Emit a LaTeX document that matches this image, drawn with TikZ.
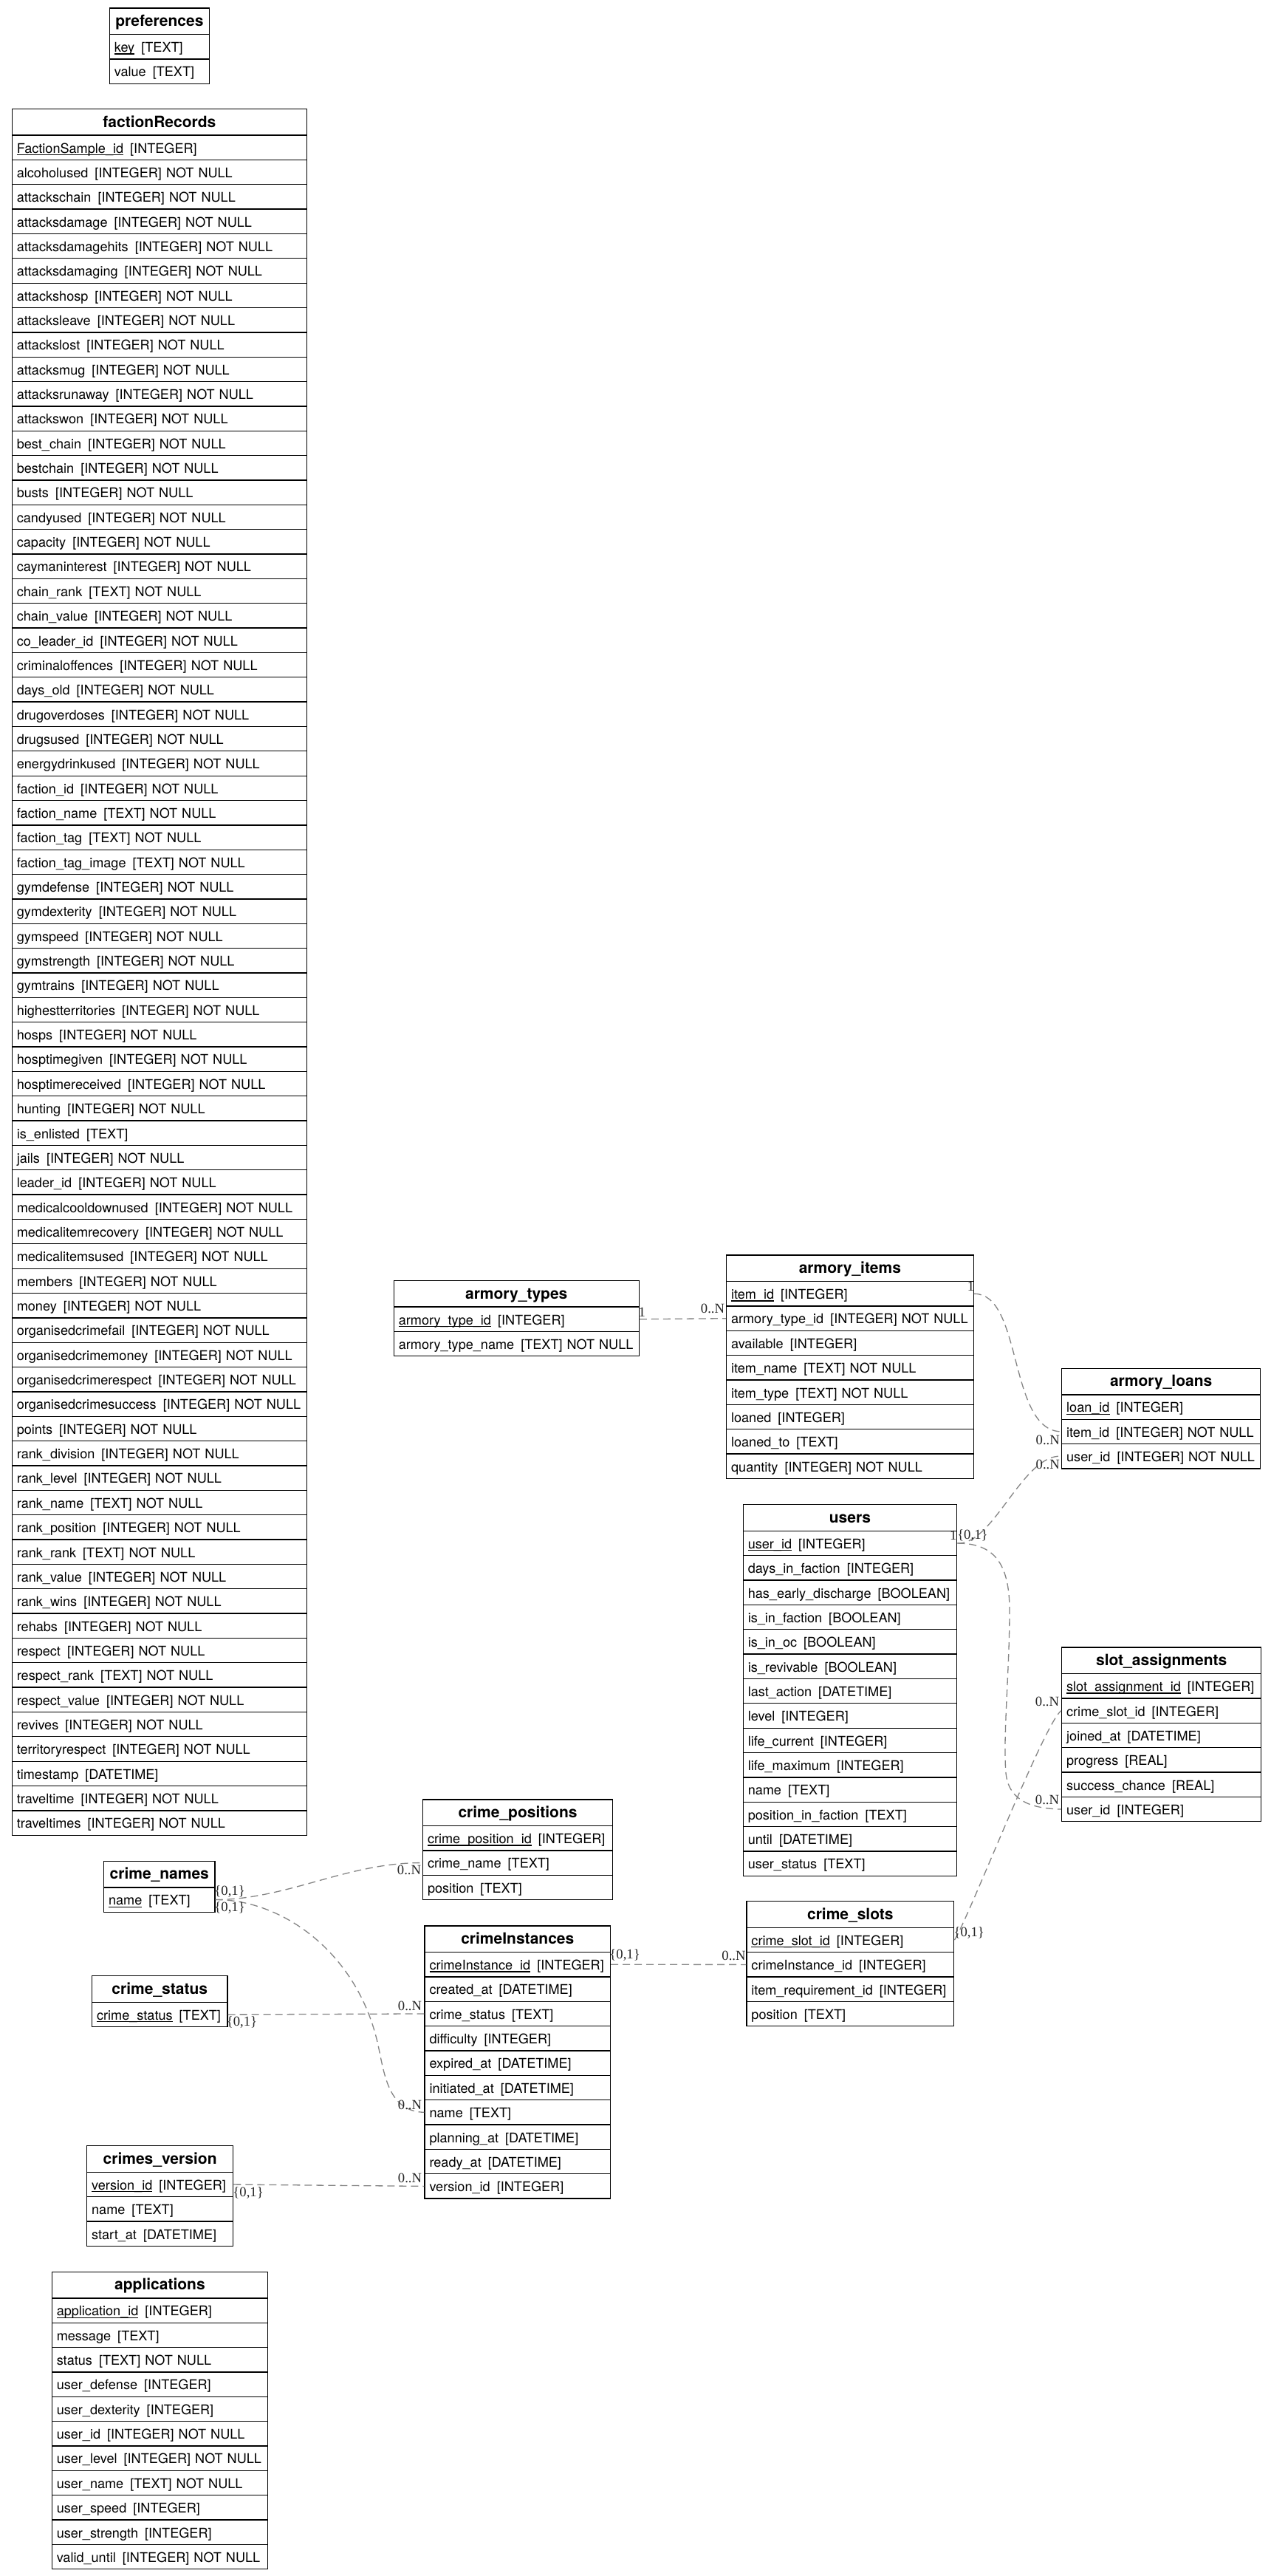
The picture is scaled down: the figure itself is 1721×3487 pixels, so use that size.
\documentclass[tikz,border=0pt]{standalone}
\usepackage{fontspec}
\setmainfont{TeX Gyre Heros}
\newfontfamily\lblfont{Liberation Serif}
\newcommand\tgap{\hspace{0.5em}}
\newcommand\pkey[1]{\setbox0\hbox{#1}\rlap{\rule[-3bp]{\wd0}{1.2bp}}\box0}
\newcommand\tI{[INTEGER]}
\newcommand\tT{[TEXT]}
\newcommand\tD{[DATETIME]}
\newcommand\tB{[BOOLEAN]}
\newcommand\tR{[REAL]}
\newcommand\tINN{[INTEGER] NOT NULL}
\newcommand\tTNN{[TEXT] NOT NULL}
\tikzset{
  hdr/.style={draw=black, line width=1.3bp, fill=white, inner sep=0pt,
    minimum height=35.7bp, font=\fontsize{21bp}{25bp}\selectfont\bfseries,
    text height=17bp, text depth=3.3bp},
  rowc/.style={draw=black, line width=1.3bp, fill=white, inner xsep=6.5bp,
    inner ysep=0pt, minimum height=33.35bp,
    font=\fontsize{18.1bp}{22bp}\selectfont, align=left,
    text height=17bp, text depth=2.4bp},
  rel/.style={draw=black!48, line width=1.3bp, dash pattern=on 10bp off 6bp},
  card/.style={font=\lblfont\fontsize{18.67bp}{22bp}\selectfont, inner sep=0pt, text=black!85}
}
% #1 name, #2 left, #3 width, #4 top, #5 title, #6 rows
\newcommand\mktable[6]{%
  \pgfmathsetmacro\tw{#3-13}%
  \node[hdr, minimum width=#3bp, anchor=north west] (#1) at (#2,#4) {#5};
  \foreach \r [count=\i] in {#6} {
    \pgfmathsetmacro\yy{#4+35.7+(\i-1)*33.35}
    \node[rowc, minimum width=#3bp, text width=\tw bp, anchor=north west] (#1-\i) at (#2,\yy) {\mbox{\r}};
  }
}
\begin{document}
\begin{tikzpicture}[x=1bp,y=-1bp]
\fill[white] (0,0) rectangle (1721,3487);
\useasboundingbox (0,0) rectangle (1721,3487);

\mktable{prefs}{147.7}{135}{10.3}{preferences}{\pkey{key}\tgap\tT, value\tgap\tT}

\mktable{faction}{15.7}{399}{146.7}{factionRecords}{%
\pkey{FactionSample\_id}\tgap\tI,
alcoholused\tgap\tINN,
attackschain\tgap\tINN,
attacksdamage\tgap\tINN,
attacksdamagehits\tgap\tINN,
attacksdamaging\tgap\tINN,
attackshosp\tgap\tINN,
attacksleave\tgap\tINN,
attackslost\tgap\tINN,
attacksmug\tgap\tINN,
attacksrunaway\tgap\tINN,
attackswon\tgap\tINN,
best\_chain\tgap\tINN,
bestchain\tgap\tINN,
busts\tgap\tINN,
candyused\tgap\tINN,
capacity\tgap\tINN,
caymaninterest\tgap\tINN,
chain\_rank\tgap\tTNN,
chain\_value\tgap\tINN,
co\_leader\_id\tgap\tINN,
criminaloffences\tgap\tINN,
days\_old\tgap\tINN,
drugoverdoses\tgap\tINN,
drugsused\tgap\tINN,
energydrinkused\tgap\tINN,
faction\_id\tgap\tINN,
faction\_name\tgap\tTNN,
faction\_tag\tgap\tTNN,
faction\_tag\_image\tgap\tTNN,
gymdefense\tgap\tINN,
gymdexterity\tgap\tINN,
gymspeed\tgap\tINN,
gymstrength\tgap\tINN,
gymtrains\tgap\tINN,
highestterritories\tgap\tINN,
hosps\tgap\tINN,
hosptimegiven\tgap\tINN,
hosptimereceived\tgap\tINN,
hunting\tgap\tINN,
is\_enlisted\tgap\tT,
jails\tgap\tINN,
leader\_id\tgap\tINN,
medicalcooldownused\tgap\tINN,
medicalitemrecovery\tgap\tINN,
medicalitemsused\tgap\tINN,
members\tgap\tINN,
money\tgap\tINN,
organisedcrimefail\tgap\tINN,
organisedcrimemoney\tgap\tINN,
organisedcrimerespect\tgap\tINN,
organisedcrimesuccess\tgap\tINN,
points\tgap\tINN,
rank\_division\tgap\tINN,
rank\_level\tgap\tINN,
rank\_name\tgap\tTNN,
rank\_position\tgap\tINN,
rank\_rank\tgap\tTNN,
rank\_value\tgap\tINN,
rank\_wins\tgap\tINN,
rehabs\tgap\tINN,
respect\tgap\tINN,
respect\_rank\tgap\tTNN,
respect\_value\tgap\tINN,
revives\tgap\tINN,
territoryrespect\tgap\tINN,
timestamp\tgap\tD,
traveltime\tgap\tINN,
traveltimes\tgap\tINN}

\mktable{armtypes}{532.7}{331.8}{1732.7}{armory\_types}{%
\pkey{armory\_type\_id}\tgap\tI, armory\_type\_name\tgap\tTNN}

\mktable{armitems}{982.9}{334.6}{1698.3}{armory\_items}{%
\pkey{item\_id}\tgap\tI, armory\_type\_id\tgap\tINN, available\tgap\tI,
item\_name\tgap\tTNN, item\_type\tgap\tTNN, loaned\tgap\tI,
loaned\_to\tgap\tT, quantity\tgap\tINN}

\mktable{armloans}{1437}{269}{1851.5}{armory\_loans}{%
\pkey{loan\_id}\tgap\tI, item\_id\tgap\tINN, user\_id\tgap\tINN}

\mktable{users}{1005.6}{289.4}{2036}{users}{%
\pkey{user\_id}\tgap\tI, days\_in\_faction\tgap\tI,
has\_early\_discharge\tgap\tB, is\_in\_faction\tgap\tB, is\_in\_oc\tgap\tB,
is\_revivable\tgap\tB, last\_action\tgap\tD, level\tgap\tI,
life\_current\tgap\tI, life\_maximum\tgap\tI, name\tgap\tT,
position\_in\_faction\tgap\tT, until\tgap\tD, user\_status\tgap\tT}

\mktable{slots}{1437}{270}{2229.3}{slot\_assignments}{%
\pkey{slot\_assignment\_id}\tgap\tI, crime\_slot\_id\tgap\tI,
joined\_at\tgap\tD, progress\tgap\tR, success\_chance\tgap\tR, user\_id\tgap\tI}

\mktable{cpos}{571.9}{257}{2435.2}{crime\_positions}{%
\pkey{crime\_position\_id}\tgap\tI, crime\_name\tgap\tT, position\tgap\tT}

\mktable{cnames}{139.9}{150.5}{2518.5}{crime\_names}{\pkey{name}\tgap\tT}

\mktable{cinst}{574.4}{251.5}{2606.2}{crimeInstances}{%
\pkey{crimeInstance\_id}\tgap\tI, created\_at\tgap\tD, crime\_status\tgap\tT,
difficulty\tgap\tI, expired\_at\tgap\tD, initiated\_at\tgap\tD, name\tgap\tT,
planning\_at\tgap\tD, ready\_at\tgap\tD, version\_id\tgap\tI}

\mktable{cslots}{1010.3}{280.8}{2573}{crime\_slots}{%
\pkey{crime\_slot\_id}\tgap\tI, crimeInstance\_id\tgap\tI,
item\_requirement\_id\tgap\tI, position\tgap\tT}

\mktable{cstatus}{124}{183.3}{2673.9}{crime\_status}{\pkey{crime\_status}\tgap\tT}

\mktable{cver}{117}{198}{2904}{crimes\_version}{%
\pkey{version\_id}\tgap\tI, name\tgap\tT, start\_at\tgap\tD}

\mktable{apps}{69.6}{292.4}{3074.5}{applications}{%
\pkey{application\_id}\tgap\tI, message\tgap\tT, status\tgap\tTNN,
user\_defense\tgap\tI, user\_dexterity\tgap\tI, user\_id\tgap\tINN,
user\_level\tgap\tINN, user\_name\tgap\tTNN, user\_speed\tgap\tI,
user\_strength\tgap\tI, valid\_until\tgap\tINN}

% connectors
\draw[rel] (armtypes-1.east) -- (armitems-2.west);
\draw[rel] (armitems-1.east) .. controls (1385,1750) and (1365,1937) .. (armloans-2.west);
\draw[rel] (users-1.east) .. controls (1345,2092) and (1385,1968) .. (armloans-3.west);
\draw[rel] (users-1.east) .. controls (1345,2089) and (1367,2115) .. (1367,2180)
   .. controls (1367,2260) and (1358,2350) .. (1362,2400)
   .. controls (1366,2440) and (1400,2448) .. (slots-6.west);
\draw[rel] (cslots-1.east) .. controls (1310,2600) and (1415,2330) .. (slots-2.west);
\draw[rel] (cinst-1.east) -- (cslots-2.west);
\draw[rel] (cnames-1.east) .. controls (390,2571) and (470,2521) .. (cpos-2.west);
\draw[rel] (cnames-1.east) .. controls (380,2571) and (480,2640) .. (510,2760)
   .. controls (520,2800) and (522,2858) .. (cinst-7.west);
\draw[rel] (cstatus-1.east) -- (cinst-3.west);
\draw[rel] (cver-1.east) -- (cinst-10.west);

% cardinality labels
\node[card] (c1) at (869.2,1776.7) {1};
\node[card] (c2) at (965,1771.7) {0..N};
\node[card] (c3) at (1314.6,1741) {1};
\node[card] (c4) at (1418.8,1948.9) {0..N};
\node[card] (c5) at (1418.8,1982.3) {0..N};
\node[card] (c6) at (1290.8,2078) {1};
\node[card] (c7) at (1316.9,2078) {\{0,1\}};
\node[card] (c8) at (1418,2303.3) {0..N};
\node[card] (c9) at (1418,2436.7) {0..N};
\node[card] (c10) at (1312.2,2616.7) {\{0,1\}};
\node[card] (c11) at (846.1,2646.7) {\{0,1\}};
\node[card] (c12) at (993.5,2647.3) {0..N};
\node[card] (c13) at (311.1,2560.5) {\{0,1\}};
\node[card] (c14) at (311.1,2582.5) {\{0,1\}};
\node[card] (c15) at (554,2531.5) {0..N};
\node[card] (c16) at (555,2849.4) {0..N};
\node[card] (c17) at (327.5,2737.8) {\{0,1\}};
\node[card] (c18) at (555,2715.5) {0..N};
\node[card] (c19) at (336.1,2968.4) {\{0,1\}};
\node[card] (c20) at (555,2948.1) {0..N};
\end{tikzpicture}
\end{document}
